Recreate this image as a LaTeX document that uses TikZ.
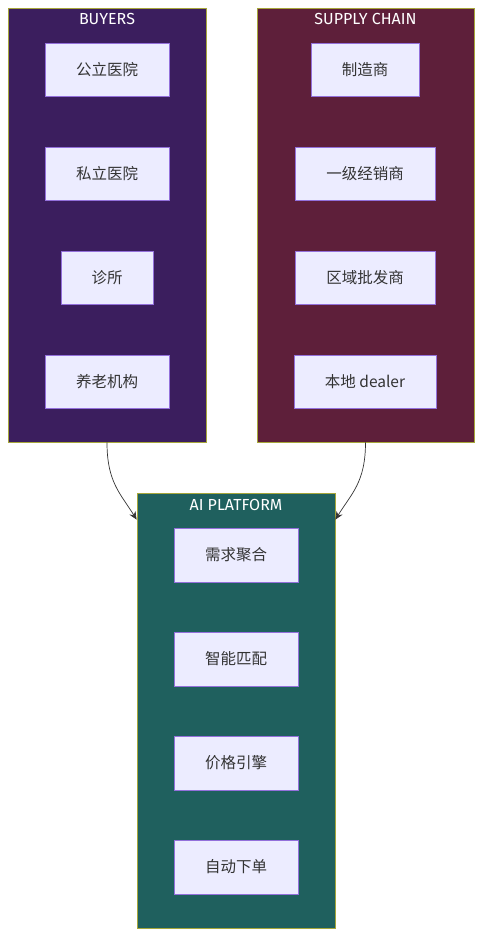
\documentclass[tikz,border=0pt]{standalone}
\usepackage{fontspec}
\setmainfont{Fira Sans}
\newfontfamily\cjk{Noto Sans CJK SC}
\usetikzlibrary{arrows.meta}
\definecolor{buyersbg}{HTML}{3B1E5E}
\definecolor{supplybg}{HTML}{5E1F3A}
\definecolor{platformbg}{HTML}{1F605E}
\definecolor{clusterline}{HTML}{A6A63A}
\definecolor{itembg}{HTML}{ECECFF}
\definecolor{itemline}{HTML}{9370DB}
\definecolor{edgeline}{HTML}{333333}
\begin{document}
\begin{tikzpicture}[x = 1pt, y = -1pt,
    cluster/.style = {draw = clusterline, line width = .8pt, inner sep = 0pt},
    title/.style = {text = white, font = \fontsize{16}{18}\selectfont},
    item/.style = {draw = itemline, fill = itembg, line width = .8pt,
      minimum height = 53pt, text = edgeline,
      font = \cjk\fontsize{15.5}{18}\selectfont},
    link/.style = {edgeline, line width = .7pt, -{Stealth[length = 8pt, width = 7pt]}}]
  \useasboundingbox (0,0) rectangle (482,938);
  % the three groups
  \node [cluster, fill = buyersbg, minimum width = 198pt, minimum height = 434pt]
    (buyers) at (107,225) {};
  \node [cluster, fill = supplybg, minimum width = 217pt, minimum height = 434pt]
    (supply) at (365.5,225) {};
  \node [cluster, fill = platformbg, minimum width = 198pt, minimum height = 435pt]
    (platform) at (236,710.5) {};
  \node [title, anchor = center] (buyerstitle) at (107,19) {BUYERS};
  \node [title, anchor = center] (supplytitle) at (365.5,19) {SUPPLY CHAIN};
  \node [title, anchor = center] (platformtitle) at (236,505) {AI PLATFORM};
  % buyers
  \node [item, minimum width = 124pt] (public) at (107,69.5) {公立医院};
  \node [item, minimum width = 124pt] (private) at (107,173.5) {私立医院};
  \node [item, minimum width = 92pt] (clinic) at (107,277.5) {诊所};
  \node [item, minimum width = 124pt] (elderly) at (107,381.5) {养老机构};
  % supply chain
  \node [item, minimum width = 108pt] (maker) at (365,69.5) {制造商};
  \node [item, minimum width = 140pt] (firsttier) at (365,173.5) {一级经销商};
  \node [item, minimum width = 140pt] (regional) at (365,277.5) {区域批发商};
  \node [item, minimum width = 142pt] (dealer) at (365,381.5) {本地 dealer};
  % platform
  \node [item, minimum width = 124pt, minimum height = 54pt] (demand) at (236,555) {需求聚合};
  \node [item, minimum width = 124pt, minimum height = 54pt] (match) at (236,659) {智能匹配};
  \node [item, minimum width = 124pt, minimum height = 54pt] (pricing) at (236,763) {价格引擎};
  \node [item, minimum width = 124pt, minimum height = 54pt] (order) at (236,867) {自动下单};
  % links into the platform
  \coordinate (platformleft) at ([yshift = -27pt] platform.north west);
  \coordinate (platformright) at ([yshift = -27pt] platform.north east);
  \draw [link] (buyers.south) .. controls +(0,40) and +(-16,-26) .. (platformleft);
  \draw [link] (supply.south) .. controls +(0,40) and +(16,-26) .. (platformright);
\end{tikzpicture}
\end{document}
